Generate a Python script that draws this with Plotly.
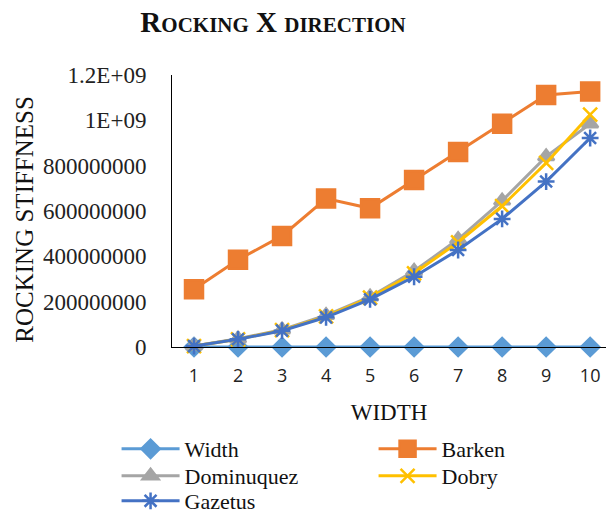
import plotly.graph_objects as go

# Foundation width steps and rocking stiffness from each method
width = [1, 2, 3, 4, 5, 6, 7, 8, 9, 10]
barken = [255e6, 385e6, 490e6, 655e6, 612e6, 737e6, 860e6, 985e6, 1112e6, 1127e6]
dominuquez = [5e6, 36e6, 76e6, 140e6, 222e6, 335e6, 475e6, 645e6, 840e6, 985e6]
dobry = [4e6, 34e6, 74e6, 135e6, 218e6, 325e6, 462e6, 622e6, 812e6, 1025e6]
gazetus = [4e6, 34e6, 72e6, 131e6, 210e6, 310e6, 428e6, 565e6, 730e6, 922e6]

y_tick_values = [0, 2e8, 4e8, 6e8, 8e8, 1e9, 1.2e9]
y_tick_labels = ["0", "200000000", "400000000", "600000000", "800000000", "1E+09", "1.2E+09"]

SERIF = "Liberation Serif, serif"
SANS = "Open Sans, sans-serif"

# name, values, colour, marker symbol, marker size, legend row
series = [
    ("Width", width, "#5B9BD5", "diamond", 14, "legend"),
    ("Barken", barken, "#ED7D31", "square", 18, "legend"),
    ("Dominuquez", dominuquez, "#A5A5A5", "triangle-up", 14, "legend2"),
    ("Dobry", dobry, "#FFC000", "x-thin", 14, "legend2"),
    ("Gazetus", gazetus, "#4472C4", "asterisk", 14, "legend3"),
]

fig = go.Figure()
for name, values, color, symbol, size, legend_row in series:
    fig.add_trace(go.Scatter(
        x=width, y=values, name=name, mode="lines+markers",
        line=dict(color=color, width=3),
        marker=dict(symbol=symbol, size=size, color=color,
                    line=dict(color=color, width=2.5)),
        cliponaxis=False, legend=legend_row,
    ))

FIG_W, FIG_H = 606, 515
PLOT_LEFT, PLOT_TOP, PLOT_BOTTOM = 171.5, 75, 347


def paper_x(px):
    return (px - PLOT_LEFT) / (FIG_W - PLOT_LEFT)


def paper_y(px):
    return (PLOT_BOTTOM - px) / (PLOT_BOTTOM - PLOT_TOP)


legend_style = dict(
    orientation="h", x=paper_x(116), xanchor="left", yanchor="middle",
    entrywidth=184, entrywidthmode="pixels", itemwidth=58,
    font=dict(family=SERIF, size=22, color="#111111"),
    bgcolor="rgba(0,0,0,0)",
)

fig.update_layout(
    width=FIG_W, height=FIG_H,
    margin=dict(l=PLOT_LEFT, r=0, t=PLOT_TOP, b=FIG_H - PLOT_BOTTOM, autoexpand=False),
    paper_bgcolor="white", plot_bgcolor="white",
    title=dict(
        text="<b>R<span style='font-size:21px'>OCKING</span> X "
             "<span style='font-size:21px'>DIRECTION</span></b>",
        x=273 / FIG_W, xanchor="center", y=1 - 22 / FIG_H, yanchor="middle",
        font=dict(family=SERIF, size=29, color="#111111"),
    ),
    xaxis=dict(
        range=[0.5, 10.36], tickvals=width, ticktext=[str(w) for w in width],
        showgrid=False, zeroline=False, showline=True, linecolor="#000000", linewidth=1,
        ticks="", ticklabelstandoff=12,
        tickfont=dict(family=SANS, size=18, color="#222222"),
        title=dict(text="WIDTH", font=dict(family=SERIF, size=23, color="#111111"), standoff=18),
    ),
    yaxis=dict(
        range=[0, 1.2e9], tickvals=y_tick_values, ticktext=y_tick_labels,
        showgrid=False, zeroline=False, showline=True, linecolor="#000000", linewidth=1,
        ticks="", ticklabelstandoff=20,
        tickfont=dict(family=SERIF, size=23, color="#222222"),
    ),
    annotations=[dict(
        text="ROCKING STIFFNESS", textangle=-90, showarrow=False,
        xref="paper", yref="paper", x=paper_x(23), y=paper_y(219),
        xanchor="center", yanchor="middle",
        font=dict(family=SERIF, size=25, color="#111111"),
    )],
    legend=dict(legend_style, y=paper_y(449)),
    legend2=dict(legend_style, y=paper_y(476)),
    legend3=dict(legend_style, y=paper_y(501)),
    showlegend=True,
)

fig.write_html("out.html")
